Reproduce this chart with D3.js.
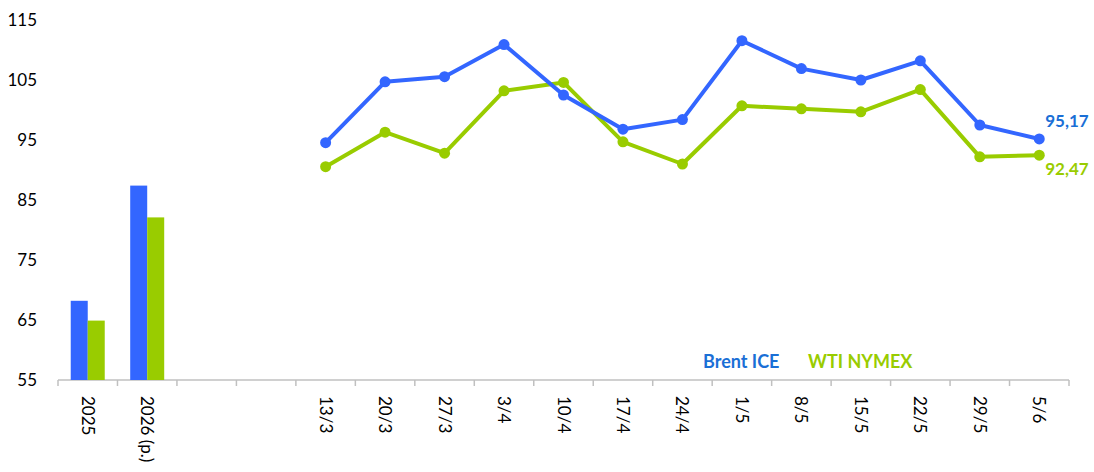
<!DOCTYPE html>
<html>
<head>
<meta charset="utf-8">
<script src="https://cdn.jsdelivr.net/npm/d3@7"></script>
<style>
  body { margin: 0; background: #fff; }
  svg text { font-family: Lato, "Open Sans", sans-serif; }
</style>
</head>
<body>
<svg id="chart" width="1094" height="472"></svg>
<script>
// annual averages (bars) and weekly prices (lines)
var years = ["2025", "2026 (p.)"];
var brentYear = [68.2, 87.4];
var wtiYear = [64.9, 82.1];

var gaps = ["gap1", "gap2"];

var weeks = ["13/3", "20/3", "27/3", "3/4", "10/4", "17/4", "24/4", "1/5", "8/5", "15/5", "22/5", "29/5", "5/6"];
var brentWeek = [94.55, 104.7, 105.55, 110.9, 102.5, 96.8, 98.4, 111.55, 106.9, 105.0, 108.2, 97.5, 95.17];
var wtiWeek = [90.55, 96.3, 92.8, 103.2, 104.6, 94.7, 91.0, 100.7, 100.2, 99.7, 103.4, 92.2, 92.47];

var yTicks = [55, 65, 75, 85, 95, 105, 115];

var blue = "#3366ff", green = "#99cc00", blueText = "#1a6fd6";

var svg = d3.select("#chart"),
    margin = {top: 20, right: 25, bottom: 92, left: 58},
    width = +svg.attr("width") - margin.left - margin.right,
    height = +svg.attr("height") - margin.top - margin.bottom;

var g = svg.append("g")
    .attr("transform", "translate(" + margin.left + "," + margin.top + ")");

var x = d3.scaleBand()
    .domain(years.concat(gaps, weeks))
    .range([0, 1011]);

var y = d3.scaleLinear().domain([55, 115]).range([height, 0]);

// y axis: labels only
g.append("g")
    .call(d3.axisLeft(y).tickValues(yTicks).tickSize(0).tickPadding(21))
    .call(function(a) { a.select(".domain").remove(); })
    .selectAll("text")
      .style("font-size", "17px")
      .attr("fill", "#000");

// x axis line with ticks at category borders
var xa = g.append("g").attr("transform", "translate(0," + height + ")");
xa.append("line")
    .attr("x1", 0).attr("x2", x.range()[1])
    .attr("stroke", "#c0c0c0").attr("stroke-width", 1.5);
xa.selectAll(".tk")
    .data(x.domain().map(function(d) { return x(d); }).concat([x.range()[1]]))
  .enter().append("line")
    .attr("x1", function(d) { return d; })
    .attr("x2", function(d) { return d; })
    .attr("y1", 0).attr("y2", 6)
    .attr("stroke", "#c0c0c0").attr("stroke-width", 1.5);
xa.selectAll(".lbl")
    .data(years.concat(weeks))
  .enter().append("text")
    .attr("transform", function(d) {
        return "translate(" + (x(d) + x.bandwidth() / 2) + ",16) rotate(90)";
    })
    .attr("dy", "0.35em")
    .style("font-size", "17px")
    .text(function(d) { return d; });

// bars
var bw = 17;
g.selectAll(".bar-b")
    .data(years)
  .enter().append("rect")
    .attr("x", function(d) { return x(d) + x.bandwidth() / 2 - bw; })
    .attr("width", bw)
    .attr("y", function(d, i) { return y(brentYear[i]); })
    .attr("height", function(d, i) { return height - y(brentYear[i]); })
    .attr("fill", blue);
g.selectAll(".bar-w")
    .data(years)
  .enter().append("rect")
    .attr("x", function(d) { return x(d) + x.bandwidth() / 2; })
    .attr("width", bw)
    .attr("y", function(d, i) { return y(wtiYear[i]); })
    .attr("height", function(d, i) { return height - y(wtiYear[i]); })
    .attr("fill", green);

// lines
function drawSeries(vals, col) {
    var pts = weeks.map(function(w, i) { return [x(w) + x.bandwidth() / 2, y(vals[i])]; });
    g.append("path")
        .attr("d", d3.line()(pts))
        .attr("fill", "none")
        .attr("stroke", col)
        .attr("stroke-width", 4)
        .attr("stroke-linejoin", "round");
    g.selectAll(null)
        .data(pts)
      .enter().append("circle")
        .attr("cx", function(d) { return d[0]; })
        .attr("cy", function(d) { return d[1]; })
        .attr("r", 5.5)
        .attr("fill", col);
}
drawSeries(wtiWeek, green);
drawSeries(brentWeek, blue);

// end labels
var last = weeks[weeks.length - 1], lx = x(last) + x.bandwidth() / 2 + 6;
g.append("text")
    .attr("x", lx).attr("y", y(brentWeek[brentWeek.length - 1]) - 18)
    .attr("dy", "0.35em")
    .attr("fill", blueText)
    .style("font-size", "17px").style("font-weight", "bold")
    .text(d3.format(".2f")(brentWeek[brentWeek.length - 1]).replace(".", ","));
g.append("text")
    .attr("x", lx).attr("y", y(wtiWeek[wtiWeek.length - 1]) + 14)
    .attr("dy", "0.35em")
    .attr("fill", green)
    .style("font-size", "17px").style("font-weight", "bold")
    .text(d3.format(".2f")(wtiWeek[wtiWeek.length - 1]).replace(".", ","));

// legend
g.append("text")
    .attr("x", 645).attr("y", 362 - margin.top).attr("dy", "0.35em")
    .attr("fill", blueText)
    .style("font-size", "18px").style("font-weight", "bold")
    .text("Brent ICE");
g.append("text")
    .attr("x", 750).attr("y", 362 - margin.top).attr("dy", "0.35em")
    .attr("fill", green)
    .style("font-size", "18px").style("font-weight", "bold")
    .text("WTI NYMEX");
</script>
</body>
</html>
